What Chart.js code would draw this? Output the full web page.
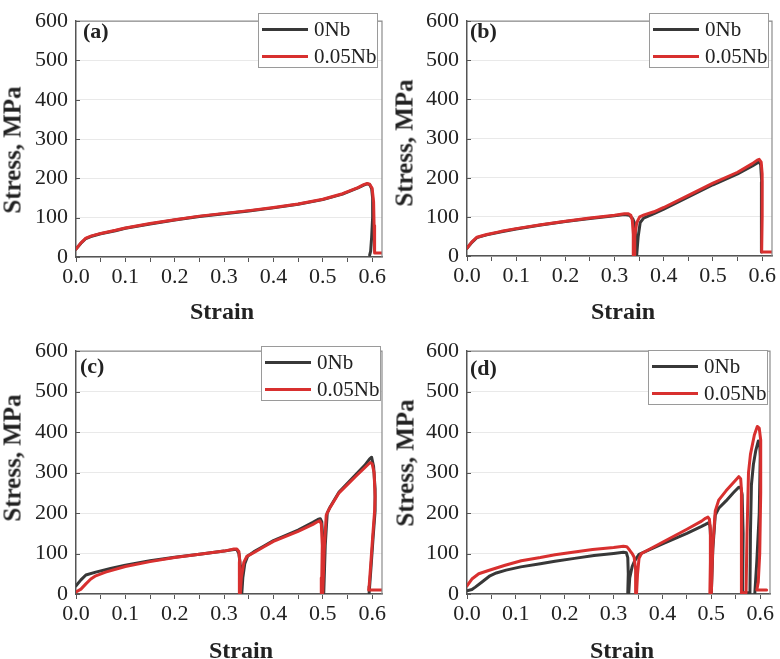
<!DOCTYPE html>
<html>
<head>
<meta charset="utf-8">
<script src="https://cdn.jsdelivr.net/npm/chart.js@4.4.1/dist/chart.umd.min.js"></script>
<style>
  body { margin: 0; background: #fff; }
  #fig { position: relative; width: 780px; height: 659px; overflow: hidden;
         font-family: "Liberation Serif", "Times New Roman", serif; color: #222; }
  #fig canvas { position: absolute; }
  .tag { position: absolute; font-weight: bold; font-size: 22px; line-height: 24px; transform: translateY(-50%); }
  .ytitle, .xtitle { position: absolute; font-weight: bold; white-space: nowrap; line-height: 1; }
  .ytitle { font-size: 25px; transform: translate(-50%, -50%) rotate(-90deg); }
  .xtitle { font-size: 24px; transform: translate(-50%, -50%); }
  .legend { position: absolute; border: 1px solid #9a9a9a; background: #fff; box-sizing: border-box; }
  .legend .row { position: absolute; left: 0; height: 24px; display: flex; align-items: center; transform: translateY(-50%); }
  .legend .swatch { display: inline-block; width: 46px; height: 3px; margin-left: 3px; margin-right: 6px; }
  .legend .txt { font-size: 21px; }
</style>
</head>
<body>
<div id="fig"></div>
<script>
// ---- data: [strain, stress MPa] ----
const seriesNames = ["0Nb", "0.05Nb"];
const seriesColors = ["#383838", "#d8302f"];
const panelTags = ["(a)", "(b)", "(c)", "(d)"];
const xTitle = "Strain";
const yTitle = "Stress, MPa";

const a_0Nb = [[0,20],[0.01,35],[0.02,47],[0.03,52],[0.05,59],[0.08,67],[0.1,73],[0.15,84],[0.2,94],[0.25,103],[0.3,110],[0.35,117],[0.4,125],[0.45,134],[0.5,146],[0.54,160],[0.57,175],[0.583,183],[0.59,186],[0.595,184],[0.599,174],[0.601,150],[0.601,100],[0.599,50],[0.597,15],[0.595,5]];
const a_005Nb = [[0,20],[0.01,36],[0.02,48],[0.03,53],[0.05,60],[0.08,68],[0.1,74],[0.15,85],[0.2,95],[0.25,104],[0.3,111],[0.35,118],[0.4,126],[0.45,135],[0.5,147],[0.54,161],[0.57,176],[0.583,184],[0.59,187],[0.595,185],[0.6,175],[0.603,140],[0.604,80],[0.605,10],[0.62,10]];

const b_0Nb = [[0,20],[0.01,35],[0.02,47],[0.04,54],[0.07,62],[0.1,69],[0.15,79],[0.2,88],[0.25,96],[0.3,103],[0.32,106],[0.33,104],[0.337,95],[0.341,82],[0.343,45],[0.343,3],[0.345,3],[0.348,50],[0.352,85],[0.359,97],[0.38,108],[0.4,120],[0.45,151],[0.5,182],[0.55,210],[0.58,230],[0.59,238],[0.594,241],[0.597,233],[0.599,190],[0.599,100],[0.598,10]];
const b_005Nb = [[0,20],[0.01,36],[0.02,48],[0.04,55],[0.07,63],[0.1,70],[0.15,80],[0.2,89],[0.25,97],[0.3,104],[0.32,108],[0.328,108],[0.333,104],[0.336,92],[0.338,55],[0.338,3],[0.34,3],[0.341,50],[0.345,85],[0.351,100],[0.36,105],[0.38,113],[0.4,124],[0.45,155],[0.5,186],[0.55,214],[0.58,236],[0.59,245],[0.594,247],[0.598,240],[0.6,210],[0.6,100],[0.599,10],[0.62,10]];

const c_0Nb = [[0,20],[0.01,35],[0.02,47],[0.04,54],[0.07,63],[0.1,71],[0.15,82],[0.2,91],[0.25,98],[0.3,106],[0.32,110],[0.326,110],[0.33,100],[0.333,70],[0.334,30],[0.333,3],[0.336,3],[0.338,40],[0.342,75],[0.348,94],[0.36,104],[0.38,118],[0.4,132],[0.45,158],[0.48,177],[0.49,184],[0.495,186],[0.498,178],[0.5,140],[0.5,60],[0.499,3],[0.502,3],[0.505,120],[0.509,200],[0.514,213],[0.533,252],[0.567,295],[0.585,318],[0.595,334],[0.599,338],[0.603,315],[0.606,260],[0.606,205],[0.602,140],[0.598,70],[0.595,20],[0.594,3]];
const c_005Nb = [[0,5],[0.01,12],[0.02,25],[0.03,37],[0.04,45],[0.06,54],[0.1,68],[0.15,80],[0.2,90],[0.25,98],[0.3,106],[0.32,111],[0.326,111],[0.33,105],[0.332,80],[0.331,30],[0.331,3],[0.333,3],[0.335,40],[0.34,78],[0.346,93],[0.36,102],[0.38,116],[0.4,130],[0.45,155],[0.48,172],[0.49,179],[0.494,181],[0.497,173],[0.499,120],[0.498,40],[0.497,3],[0.5,3],[0.503,110],[0.507,195],[0.513,210],[0.533,250],[0.567,291],[0.585,312],[0.596,325],[0.6,322],[0.604,300],[0.606,240],[0.605,205],[0.601,140],[0.597,70],[0.594,20],[0.593,10],[0.62,10]];

const d_0Nb = [[0,8],[0.01,11],[0.017,17],[0.03,29],[0.047,45],[0.06,52],[0.08,59],[0.11,67],[0.15,75],[0.18,81],[0.22,88],[0.26,95],[0.3,100],[0.32,103],[0.326,102],[0.329,90],[0.33,50],[0.329,3],[0.331,3],[0.333,40],[0.338,68],[0.343,82],[0.352,98],[0.4,124],[0.45,150],[0.48,167],[0.488,172],[0.494,176],[0.497,170],[0.499,130],[0.499,50],[0.498,3],[0.5,3],[0.503,110],[0.508,195],[0.515,212],[0.53,230],[0.545,250],[0.556,264],[0.56,264],[0.563,245],[0.565,150],[0.564,3],[0.579,3],[0.58,150],[0.582,270],[0.586,320],[0.591,355],[0.596,378],[0.599,374],[0.6,340],[0.598,200],[0.593,80],[0.589,3]];
const d_005Nb = [[0,20],[0.01,37],[0.024,50],[0.044,58],[0.078,71],[0.111,82],[0.15,90],[0.18,97],[0.22,104],[0.257,110],[0.3,115],[0.32,118],[0.327,117],[0.333,108],[0.338,100],[0.342,91],[0.345,60],[0.345,3],[0.347,3],[0.349,50],[0.352,88],[0.357,100],[0.4,128],[0.45,160],[0.48,180],[0.488,187],[0.493,190],[0.496,185],[0.498,160],[0.498,80],[0.497,3],[0.5,3],[0.503,120],[0.508,205],[0.515,232],[0.53,255],[0.55,282],[0.556,290],[0.56,285],[0.562,250],[0.562,100],[0.561,3],[0.571,3],[0.573,150],[0.576,300],[0.58,345],[0.588,393],[0.594,414],[0.598,410],[0.601,380],[0.601,250],[0.599,100],[0.596,30],[0.593,10],[0.613,10]];

const panelSeries = [[a_0Nb, a_005Nb], [b_0Nb, b_005Nb], [c_0Nb, c_005Nb], [d_0Nb, d_005Nb]];

// ---- layout (figure pixels) ----
const panels = [
  { x: 0,   y: 0,   w: 390, h: 330, area: { l: 76,  r: 382, t: 10,  b: 257 }, tag: [83, 31],  legend: [258, 13],  yt: [12, 150],  xt: [222, 311] },
  { x: 390, y: 0,   w: 390, h: 330, area: { l: 467, r: 772, t: 10,  b: 256 }, tag: [470, 31], legend: [649, 13],  yt: [404, 143], xt: [623, 311] },
  { x: 0,   y: 330, w: 390, h: 329, area: { l: 76,  r: 382, t: 345, b: 594 }, tag: [80, 366], legend: [261, 346], yt: [12, 458],  xt: [241, 650] },
  { x: 390, y: 330, w: 390, h: 329, area: { l: 467, r: 770, t: 348, b: 594 }, tag: [470, 368], legend: [648, 350], yt: [405, 463], xt: [622, 650] }
];

const tickFont = { family: "Liberation Serif", size: 22 };

// frame round the plot area + short inward ticks on the y axis
const framePlugin = {
  id: "frame",
  afterDraw(chart) {
    const { ctx, chartArea: a, scales } = chart;
    ctx.save();
    ctx.strokeStyle = "#8c8c8c";
    ctx.lineWidth = 1.2;
    ctx.beginPath();
    ctx.moveTo(a.left, a.top); ctx.lineTo(a.right, a.top); ctx.lineTo(a.right, a.bottom);
    ctx.stroke();
    ctx.strokeStyle = "#555";
    ctx.lineWidth = 1;
    ctx.beginPath();
    scales.y.ticks.forEach(t => {
      const py = Math.round(scales.y.getPixelForValue(t.value)) + 0.5;
      ctx.moveTo(a.left, py); ctx.lineTo(a.left + 4, py);
    });
    ctx.stroke();
    ctx.restore();
  }
};

function isMultiple(v, step) {
  return Math.abs(Math.round(v / step) * step - v) < 1e-6;
}

function makePanel(p, idx) {
  const fig = document.getElementById("fig");
  const canvas = document.createElement("canvas");
  canvas.width = p.w; canvas.height = p.h;
  canvas.style.left = p.x + "px"; canvas.style.top = p.y + "px";
  canvas.style.width = p.w + "px"; canvas.style.height = p.h + "px";
  fig.appendChild(canvas);

  const datasets = panelSeries[idx].map((pts, i) => ({
    label: seriesNames[i],
    data: pts.map(([x, y]) => ({ x, y })),
    showLine: true,
    borderColor: seriesColors[i],
    borderWidth: 3,
    pointRadius: 0,
    tension: 0,
    borderJoinStyle: "round",
    borderCapStyle: "round",
    order: i === 0 ? 1 : 0 // red on top
  }));

  new Chart(canvas, {
    type: "scatter",
    data: { datasets },
    options: {
      responsive: false,
      animation: false,
      devicePixelRatio: 1,
      layout: { padding: { left: 0, bottom: 0, top: p.area.t - p.y, right: p.x + p.w - p.area.r } },
      plugins: { legend: { display: false }, tooltip: { enabled: false } },
      scales: {
        x: {
          type: "linear", min: 0, max: 0.62,
          afterFit: s => { s.height = p.y + p.h - p.area.b; },
          ticks: {
            stepSize: 0.05, includeBounds: false, autoSkip: false, maxRotation: 0, padding: 2,
            font: tickFont, color: "#222",
            callback: v => isMultiple(v, 0.1) ? v.toFixed(1) : ""
          },
          grid: { drawOnChartArea: false, tickLength: 5, tickColor: "#555" },
          border: { color: "#555", width: 1.5 }
        },
        y: {
          type: "linear", min: 0, max: 600,
          afterFit: s => { s.width = p.area.l - p.x; },
          ticks: {
            stepSize: 50, padding: 8, font: tickFont, color: "#222",
            callback: v => isMultiple(v, 100) ? String(v) : ""
          },
          grid: { color: "#e9e9e9", drawTicks: false },
          border: { color: "#555", width: 1.5 }
        }
      }
    },
    plugins: [framePlugin]
  });

  // panel tag
  const tag = document.createElement("div");
  tag.className = "tag";
  tag.textContent = panelTags[idx];
  tag.style.left = p.tag[0] + "px"; tag.style.top = p.tag[1] + "px";
  fig.appendChild(tag);

  // legend box
  const lg = document.createElement("div");
  lg.className = "legend";
  lg.style.left = p.legend[0] + "px"; lg.style.top = p.legend[1] + "px";
  lg.style.width = "120px"; lg.style.height = "55px";
  seriesNames.forEach((name, i) => {
    const row = document.createElement("div");
    row.className = "row";
    row.style.top = (i === 0 ? 15 : 42) + "px";
    const sw = document.createElement("span");
    sw.className = "swatch"; sw.style.background = seriesColors[i];
    const tx = document.createElement("span");
    tx.className = "txt"; tx.textContent = name;
    row.appendChild(sw); row.appendChild(tx);
    lg.appendChild(row);
  });
  fig.appendChild(lg);

  // axis titles
  const yt = document.createElement("div");
  yt.className = "ytitle"; yt.textContent = yTitle;
  yt.style.left = p.yt[0] + "px"; yt.style.top = p.yt[1] + "px";
  fig.appendChild(yt);
  const xt = document.createElement("div");
  xt.className = "xtitle"; xt.textContent = xTitle;
  xt.style.left = p.xt[0] + "px"; xt.style.top = p.xt[1] + "px";
  fig.appendChild(xt);
}

panels.forEach(makePanel);
</script>
</body>
</html>
